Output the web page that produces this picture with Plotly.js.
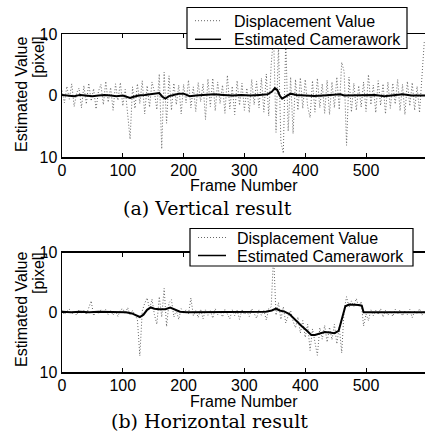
<!DOCTYPE html>
<html>
<head>
<meta charset="utf-8">
<script src="https://cdn.plot.ly/plotly-3.0.1.min.js"></script>
<style>html,body{margin:0;padding:0;background:#fff;}#chart{width:425px;height:433px;}</style>
</head>
<body>
<div id="chart"></div>
<script>
// ---- data ----
// Displacement values, sampled every 4 frames (0..596)
const V_DISP = [
  0.8, -1.2, 1.5, -0.6, 1.9, -1.8, 0.4, 1.2, -2.0, 1.6,
  -1.4, 2.0, -0.9, 1.1, -2.2, 0.7, 1.8, -1.5, 2.3, -1.1,
  1.3, -2.4, 1.9, -0.8, 2.1, -1.7, 1.0, -2.6, -7.1, 1.4,
  -2.1, 1.9, -1.3, 2.4, -3.0, 1.6, -1.9, 2.2, 0.6, -2.3,
  3.5, -8.7, 3.8, -4.5, 3.2, -2.4, 2.0, -1.5, 1.7, -3.0,
  1.8, -1.2, 2.5, -2.0, 1.4, -2.6, 2.1, -1.0, 1.9, -3.9,
  2.7, -1.8, 2.8, -2.5, 2.2, -1.3, 1.7, -2.9, 3.3, -2.2,
  1.5, -3.1, 2.4, -1.6, 2.0, -2.4, 1.2, -2.8, 2.6, -1.5,
  2.3, -2.0, 2.8, -2.7, 3.5, -3.3, 5.0, 9.8, -6.0, 8.2,
  -7.5, -9.4, 9.2, -5.8, 3.0, -6.2, 2.6, -2.4, 2.9, -2.1,
  2.6, -1.8, -3.6, 2.4, -2.7, 2.8, -2.0, 1.9, -2.9, 2.5,
  -3.1, 2.2, -2.0, 3.0, -2.3, 5.4, 3.9, -8.1, 3.0, -2.7,
  2.0, -2.4, 1.6, -1.9, 2.2, -2.6, 3.4, -1.5, 1.7, -2.8,
  2.4, -1.6, 1.9, -3.0, 2.2, -2.1, 2.0, -1.4, 2.6, -2.5,
  1.8, -3.1, 2.3, -1.7, 2.1, -2.4, 1.5, -2.8, 2.9, 9.0
];
const H_DISP = [
  0.3, -0.4, 0.2, 0.5, -0.3, 0.1, -0.5, 0.4, -0.2, 0.3,
  -0.4, 0.6, 1.9, -0.6, 0.2, -0.3, 0.4, -0.2, 0.5, -0.4,
  0.3, -0.5, 0.2, -0.7, 0.4, 0.6, -0.3, 0.8, -0.5, 0.3,
  -0.4, -1.2, -7.3, 0.2, 1.5, 2.4, 0.5, 2.2, -0.4, -2.0,
  2.6, -0.8, 4.0, -2.4, 1.6, 2.1, -0.8, 0.3, -1.2, 0.6,
  -0.2, 0.4, -0.3, 2.4, -0.6, 0.3, -0.9, 0.5, -1.1, 0.4,
  -0.5, 0.3, -1.0, 0.6, -0.4, 0.2, -0.8, 0.5, -0.3, -1.1,
  0.4, -0.6, 0.3, -1.2, 0.5, -0.4, 0.2, -0.7, 0.6, -0.3,
  -1.0, 0.4, -0.5, 0.3, -1.3, 0.6, 0.9, 9.6, -0.5, 1.6,
  -1.2, 0.9, -1.8, -0.6, 0.3, -1.5, -2.6, -0.8, -3.5, -1.4,
  -4.2, -2.0, -6.4, -2.8, -4.8, -7.2, -2.6, -4.5, -2.2, -5.0,
  -2.5, -4.6, -2.0, -5.3, -2.4, -6.8, 0.4, 2.6, 0.8, 1.9,
  1.0, 2.3, 0.9, 1.8, -2.3, -0.3, -1.4, 0.4, -0.6, 0.3,
  -0.4, 0.6, -0.8, 0.3, -0.5, 0.2, -0.7, 0.5, -0.3, 0.4,
  -0.6, 0.3, -0.4, 0.5, -0.9, 0.2, -0.3, 0.6, -0.5, 0.3
];
const DISP_FRAMES = V_DISP.map((_, i) => i * 4);

// Estimated camerawork
const V_EST_FRAMES = [0,10,20,30,40,50,60,70,80,90,100,106,112,118,126,136,146,154,160,165,170,176,184,192,200,210,220,235,250,265,280,295,310,325,338,345,350,354,358,362,368,376,386,400,415,430,445,458,464,472,485,500,515,530,545,560,575,590,597];
const V_EST = [0.1,0.0,-0.1,0.1,0.0,-0.1,0.0,0.1,0.0,-0.1,0.0,-0.2,-0.4,-0.2,0.0,0.1,0.2,0.4,0.4,-0.2,-0.5,-0.1,0.1,0.3,0.3,-0.1,0.0,0.1,0.2,0.1,0.0,0.1,0.0,0.1,0.2,0.6,1.2,0.9,0.0,-0.5,-0.1,0.3,0.1,0.0,-0.1,0.0,0.1,0.2,0.0,0.0,0.1,0.0,0.1,-0.1,0.1,0.2,0.0,0.0,0.0];
const H_EST_FRAMES = [0,15,30,45,60,75,90,105,115,122,128,134,140,146,152,160,170,178,186,194,205,220,240,260,280,300,320,335,345,352,358,366,374,380,386,394,402,410,416,424,432,440,448,455,459,462,466,472,480,488,493,496,505,520,540,560,580,597];
const H_EST = [0.1,0.0,0.1,0.0,0.1,0.1,0.0,0.0,-0.2,-0.6,-0.8,-0.4,0.4,0.8,0.6,0.5,0.5,0.8,0.5,0.1,0.0,0.0,0.0,0.0,0.0,0.0,0.0,0.1,0.3,0.6,0.3,0.1,-0.3,-0.9,-1.6,-2.3,-3.0,-3.8,-3.8,-3.5,-3.3,-3.4,-3.5,-3.1,-1.5,-0.2,1.0,1.3,1.3,1.2,1.1,0.0,0.0,0.0,0.1,0.0,0.0,0.0];

const SERIES_NAMES = ['Displacement Value', 'Estimated Camerawork'];
const X_TICKS = [0, 100, 200, 300, 400, 500];
const Y_TICKS = [-10, 0, 10];
const Y_TICK_TEXT = ['10', '0', '10'];

// ---- chart ----
const W = 425, H = 433;
const px = v => v / W, py = v => 1 - v / H;
const SANS = 'Liberation Sans, Arial, Helvetica, sans-serif';
const SERIF = 'DejaVu Serif, serif';

const DISP_COLOR = '#666';
const dispStyle = {color: DISP_COLOR, width: 1, dash: '1px,2px'};
const estStyle = {color: '#000', width: 2};

const traces = [
  {x: DISP_FRAMES, y: V_DISP, xaxis: 'x', yaxis: 'y', mode: 'lines', name: SERIES_NAMES[0], line: dispStyle},
  {x: V_EST_FRAMES, y: V_EST, xaxis: 'x', yaxis: 'y', mode: 'lines', name: SERIES_NAMES[1], line: estStyle},
  {x: DISP_FRAMES, y: H_DISP, xaxis: 'x2', yaxis: 'y2', mode: 'lines', name: SERIES_NAMES[0], line: dispStyle},
  {x: H_EST_FRAMES, y: H_EST, xaxis: 'x2', yaxis: 'y2', mode: 'lines', name: SERIES_NAMES[1], line: estStyle}
];

const xBase = {
  range: [0, 597], domain: [px(62), 1], showline: true, linecolor: '#000', linewidth: 1.5,
  mirror: 'ticks', ticks: 'inside', ticklen: 4, tickcolor: '#000', tickwidth: 1,
  tickvals: X_TICKS, showgrid: false, zeroline: false, ticklabelstandoff: -2,
  tickfont: {family: SANS, size: 16, color: '#000'}
};
const yBase = {
  range: [-10, 10], showline: true, linecolor: '#000', linewidth: 1.5,
  ticks: 'inside', ticklen: 4, tickcolor: '#000', tickwidth: 1,
  tickvals: Y_TICKS, ticktext: Y_TICK_TEXT, showgrid: false, zeroline: false,
  tickfont: {family: SANS, size: 16, color: '#000'}
};

function ann(text, x, y, opts) {
  return Object.assign({text: text, x: px(x), y: py(y), xref: 'paper', yref: 'paper',
    showarrow: false, xanchor: 'center', yanchor: 'middle',
    font: {family: SANS, size: 16, color: '#000'}}, opts || {});
}

// legend boxes drawn per subplot: [left, top, right, bottom, sampleX0, sampleX1, textX, row1Y, row2Y]
const LEGENDS = [
  [187, 7.5, 407, 48.5, 195, 221, 232, 20.7, 39.3],
  [190, 228.5, 413, 266, 198, 226, 235, 237.5, 255.5]
];
const shapes = [];
const legendTexts = [];
LEGENDS.forEach(L => {
  shapes.push({type: 'rect', xref: 'paper', yref: 'paper', x0: px(L[0]), x1: px(L[2]), y0: py(L[3]), y1: py(L[1]),
    line: {color: '#000', width: 1.2}, fillcolor: '#fff', layer: 'above'});
  shapes.push({type: 'line', xref: 'paper', yref: 'paper', x0: px(L[4]), x1: px(L[5]), y0: py(L[7]), y1: py(L[7]),
    line: {color: DISP_COLOR, width: 1, dash: '1px,2px'}, layer: 'above'});
  shapes.push({type: 'line', xref: 'paper', yref: 'paper', x0: px(L[4]), x1: px(L[5]), y0: py(L[8]), y1: py(L[8]),
    line: {color: '#000', width: 1.5}, layer: 'above'});
  legendTexts.push(ann(SERIES_NAMES[0], L[6], L[7] + 0.5, {xanchor: 'left'}));
  legendTexts.push(ann(SERIES_NAMES[1], L[6], L[8] + 0.5, {xanchor: 'left'}));
});

const layout = {
  width: W, height: H, margin: {l: 0, r: 0, t: 0, b: 0},
  paper_bgcolor: '#fff', plot_bgcolor: '#fff', showlegend: false,
  xaxis: Object.assign({}, xBase, {anchor: 'y'}),
  yaxis: Object.assign({}, yBase, {anchor: 'x', domain: [py(157), py(34)]}),
  xaxis2: Object.assign({}, xBase, {anchor: 'y2'}),
  yaxis2: Object.assign({}, yBase, {anchor: 'x2', domain: [py(372), py(252.5)]}),
  shapes: shapes,
  annotations: [
    ann('Estimated Value', 21, 95, {textangle: -90}),
    ann('[pixel]', 38, 57, {textangle: -90}),
    ann('Frame Number', 243.5, 186),
    ann('(a) Vertical result', 207.5, 208, {font: {family: SERIF, size: 19, color: '#000'}}),
    ann('Estimated Value', 21, 310, {textangle: -90}),
    ann('[pixel]', 38, 273, {textangle: -90}),
    ann('Frame Number', 243.5, 401),
    ann('(b) Horizontal result', 209, 420.5, {font: {family: SERIF, size: 19, color: '#000'}})
  ].concat(legendTexts)
};

Plotly.newPlot('chart', traces, layout, {staticPlot: true, displayModeBar: false});
</script>
</body>
</html>
